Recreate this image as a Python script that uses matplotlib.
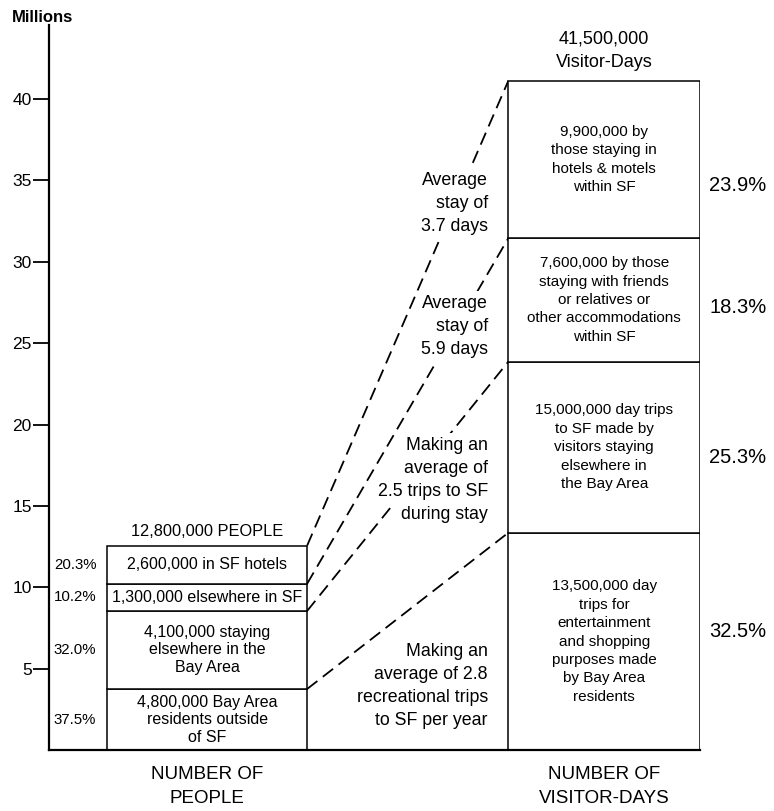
import matplotlib
matplotlib.use("Agg")
import matplotlib.pyplot as plt
import numpy as np

plt.rcParams['font.family'] = ['Liberation Sans', 'DejaVu Sans']

# ---- data (millions) ----
left_vals = [3.77, 4.79, 1.67, 2.34]
left_labels = ["4,800,000 Bay Area\nresidents outside\nof SF",
               "4,100,000 staying\nelsewhere in the\nBay Area",
               "1,300,000 elsewhere in SF",
               "2,600,000 in SF hotels"]
left_pcts = ["37.5%", "32.0%", "10.2%", "20.3%"]
left_total = "12,800,000 PEOPLE"

right_vals = [13.36, 10.50, 7.58, 9.66]
right_labels = ["13,500,000 day\ntrips for\nentertainment\nand shopping\npurposes made\nby Bay Area\nresidents",
                "15,000,000 day trips\nto SF made by\nvisitors staying\nelsewhere in\nthe Bay Area",
                "7,600,000 by those\nstaying with friends\nor relatives or\nother accommodations\nwithin SF",
                "9,900,000 by\nthose staying in\nhotels & motels\nwithin SF"]
right_pcts = ["32.5%", "25.3%", "18.3%", "23.9%"]
right_total = "41,500,000\nVisitor-Days"

link_labels = ["Making an\naverage of 2.8\nrecreational trips\nto SF per year",
               "Making an\naverage of\n2.5 trips to SF\nduring stay",
               "Average\nstay of\n5.9 days",
               "Average\nstay of\n3.7 days"]

categories = ["NUMBER OF\nPEOPLE", "NUMBER OF\nVISITOR-DAYS"]
yticks = [5, 10, 15, 20, 25, 30, 35, 40]

# ---- layout ----
bar_x = [0.243, 0.853]
bar_w = [0.307, 0.295]
link_label_y = [3.95, 16.6, 26.0, 33.6]
link_line_step = 1.41
right_pct_y = [7.3, 18.0, 27.2, 34.7]

fig = plt.figure(figsize=(7.74, 8.11), dpi=100)
ax = fig.add_axes([49/774, (811-750.4)/811, 651/774, (750.4-25)/811])
ax.set_xlim(0, 1)
ax.set_ylim(0, 44.53)

for s in ['top', 'right']:
    ax.spines[s].set_visible(False)
for s in ['left', 'bottom']:
    ax.spines[s].set_linewidth(1.6)

ax.set_yticks(yticks)
ax.set_yticklabels([str(t) for t in yticks], fontsize=12.5)
ax.tick_params(axis='y', direction='out', length=11.5, width=1.3, pad=1)
ax.set_xticks(bar_x)
ax.set_xticklabels(categories, fontsize=13.5, linespacing=1.55)
ax.tick_params(axis='x', length=0, pad=11)

fig.text(12/774, 1-17/811, "Millions", fontsize=12, fontweight='bold', va='center', ha='left')

def stack(xc, w, vals, labels, fs, ls):
    bottoms = np.concatenate([[0], np.cumsum(vals)[:-1]])
    ax.bar([xc]*len(vals), vals, width=w, bottom=bottoms, color='white',
           edgecolor='black', linewidth=1.1, zorder=2)
    for b, v, lab in zip(bottoms, vals, labels):
        ax.text(xc, b + v/2, lab, ha='center', va='center', fontsize=fs,
                linespacing=ls, zorder=4)
    return bottoms

lb = stack(bar_x[0], bar_w[0], left_vals, left_labels, 11.5, 1.2)
rb = stack(bar_x[1], bar_w[1], right_vals, right_labels, 11, 1.4)

# percentages
for b, v, p in zip(lb, left_vals, left_pcts):
    ax.text(0.040, b + v/2, p, ha='center', va='center', fontsize=10.8)
for y, p in zip(right_pct_y, right_pcts):
    ax.text(1.058, y, p, ha='center', va='center', fontsize=14.5, clip_on=False)

# totals
ax.text(bar_x[0], sum(left_vals) + 0.84, left_total, ha='center', va='center', fontsize=11.8)
ax.text(bar_x[1], sum(right_vals) + 1.84, right_total, ha='center', va='center',
        fontsize=13, linespacing=1.45, clip_on=False)

# dashed links
lcum = np.cumsum(left_vals)
rcum = np.cumsum(right_vals)
x0 = bar_x[0] + bar_w[0]/2
x1 = bar_x[1] - bar_w[1]/2
for yl, yr in zip(lcum, rcum):
    ax.plot([x0, x1], [yl, yr], color='black', lw=1.3, dashes=(7.2, 3.8), zorder=1)

for y, lab in zip(link_label_y, link_labels):
    lines = lab.split("\n")
    n = len(lines)
    for i, line in enumerate(lines):
        yy = y + (n - 1) / 2 * link_line_step - i * link_line_step
        ax.text(0.674, yy, line, ha='right', va='center', fontsize=12.8,
                zorder=3, bbox=dict(facecolor='white', edgecolor='none', pad=3))

fig.savefig("out.png", dpi=100)
